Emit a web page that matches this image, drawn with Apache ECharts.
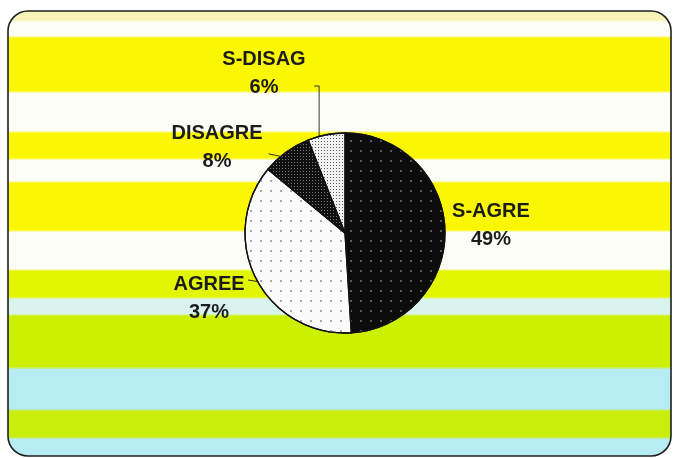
<!DOCTYPE html>
<html>
<head>
<meta charset="utf-8">
<script src="https://cdn.jsdelivr.net/npm/echarts@6/dist/echarts.min.js"></script>
<style>
  html, body { margin: 0; padding: 0; background: #ffffff; }
  #chart { width: 673px; height: 458px; }
</style>
</head>
<body>
<div id="chart"></div>
<script>
// Survey answers and their shares (percent)
const categories = ['S-AGRE', 'AGREE', 'DISAGRE', 'S-DISAG'];
const shares = [49, 37, 8, 6];

// ---- layout ----
const CX = 345, CY = 233, R = 100;
const frame = { x: 8, y: 11, w: 663, h: 445, r: 20 };

// horizontal background bands: colour, top, bottom (px)
const bands = [
  ['#f7f4b8', 11, 21],
  ['#fdfdf8', 21, 37],
  ['#fbf602', 37, 92],
  ['#fdfdf8', 92, 132],
  ['#fbf602', 132, 159],
  ['#fdfdf8', 159, 182],
  ['#fbf602', 182, 231],
  ['#fdfdf8', 231, 270],
  ['#e2f502', 270, 298],
  ['#d9f3ee', 298, 315],
  ['#cdf002', 315, 368],
  ['#b6ecf2', 368, 410],
  ['#c9ee0c', 410, 438],
  ['#b6ecf2', 438, 456]
];

// label block centres, relative to the pie centre
const labelOffsets = [[146, -8], [-136, 65], [-128, -86], [-81, -160]];

// slice fills and dot textures
const sliceStyles = [
  { color: '#0c0c0c', decal: { symbol: 'rect', symbolSize: 1, color: '#5a5a5a', dashArrayX: [1.3, 7.5], dashArrayY: [1.3, 7.5] } },
  { color: '#fbfbfb', decal: { symbol: 'rect', symbolSize: 1, color: '#a8a8a8', dashArrayX: [1.3, 7.5], dashArrayY: [1.3, 7.5] } },
  { color: '#101010', decal: { symbol: 'rect', symbolSize: 1, color: '#7a7a7a', dashArrayX: [1, 2], dashArrayY: [1, 2] } },
  { color: '#f2f2f2', decal: { symbol: 'rect', symbolSize: 1, color: '#5a5a5a', dashArrayX: [1, 2], dashArrayY: [1, 2] } }
];

function edgePoint(angleDeg, extra) {
  const a = angleDeg * Math.PI / 180;
  const r = R + (extra || 0);
  return [CX + r * Math.sin(a), CY - r * Math.cos(a)];
}

// leader lines from the pie rim to each label
function guideLine(i) {
  if (i === 3) {
    const p = edgePoint(-15);
    return [p, [p[0], 86], [p[0] - 5, 86]];
  }
  if (i === 2) {
    return [edgePoint(-40), edgePoint(-44, 10)];
  }
  if (i === 1) {
    return [edgePoint(241), [248, 280]];
  }
  return null;
}

const bandStops = [];
bands.forEach(function (b, i) {
  const s = i === 0 ? 0 : (b[1] + 1.5 - frame.y) / frame.h;
  const e = i === bands.length - 1 ? 1 : (b[2] - 1.5 - frame.y) / frame.h;
  bandStops.push({ offset: Math.max(0, s), color: b[0] });
  bandStops.push({ offset: Math.min(1, e), color: b[0] });
});

const chart = echarts.init(document.getElementById('chart'), null, { renderer: 'canvas' });

chart.setOption({
  animation: false,
  backgroundColor: '#ffffff',
  graphic: [
    {
      type: 'rect',
      z: -10,
      shape: { x: frame.x, y: frame.y, width: frame.w, height: frame.h, r: frame.r },
      style: { fill: new echarts.graphic.LinearGradient(0, 0, 0, 1, bandStops) },
      silent: true
    },
    {
      type: 'rect',
      z: 100,
      shape: { x: frame.x, y: frame.y, width: frame.w, height: frame.h, r: frame.r },
      style: { fill: 'none', stroke: '#1e1e1e', lineWidth: 1.6 },
      silent: true
    }
  ],
  series: [{
    type: 'pie',
    center: [CX, CY],
    radius: R,
    startAngle: 90,
    clockwise: true,
    avoidLabelOverlap: false,
    silent: true,
    itemStyle: { borderColor: '#111111', borderWidth: 1.3 },
    label: {
      show: true,
      position: 'outside',
      formatter: '{b}\n{c}%',
      fontFamily: 'Liberation Sans, Arial, sans-serif',
      fontSize: 20,
      fontWeight: 'bold',
      lineHeight: 28,
      color: '#1c1c1c',
      align: 'center'
    },
    labelLine: {
      show: true,
      length: 8,
      length2: 0,
      smooth: false,
      lineStyle: { color: '#333333', width: 1 }
    },
    labelLayout: function (params) {
      const i = params.dataIndex;
      const res = {
        x: CX + labelOffsets[i][0],
        y: CY + labelOffsets[i][1],
        align: 'center',
        verticalAlign: 'middle'
      };
      const pts = guideLine(i);
      if (pts) res.labelLinePoints = pts;
      return res;
    },
    data: categories.map(function (name, i) {
      return {
        name: name,
        value: shares[i],
        itemStyle: sliceStyles[i],
        labelLine: { show: i !== 0 }
      };
    })
  }]
});
</script>
</body>
</html>
